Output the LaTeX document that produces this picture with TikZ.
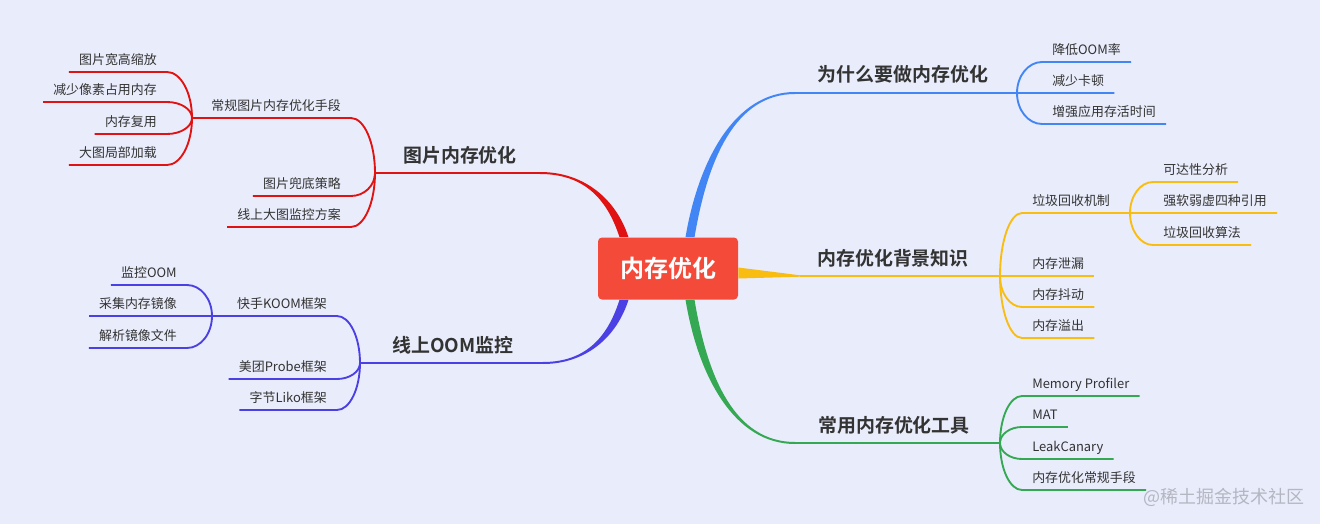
\documentclass[tikz,border=0pt]{standalone}
\usepackage{fontspec}
\setmainfont{Noto Sans CJK SC}[BoldFont={Noto Sans CJK SC Bold}]
\usetikzlibrary{calc,positioning}
\definecolor{bgpage}{HTML}{E9ECFB}
\definecolor{rootred}{HTML}{F44A3A}
\definecolor{brblue}{HTML}{4285F4}
\definecolor{bryellow}{HTML}{F9BD12}
\definecolor{brgreen}{HTML}{34A853}
\definecolor{brred}{HTML}{E11212}
\definecolor{brviolet}{HTML}{4B40E4}
\definecolor{txtgray}{HTML}{333333}
\definecolor{markgray}{HTML}{B4B6C2}
\tikzset{
  x=0.75pt, y=-0.75pt,
  rootnode/.style={fill=rootred,rounded corners=3pt,minimum width=105pt,
    minimum height=46.5pt,inner sep=0pt,text=white,
    font=\fontsize{18}{20}\selectfont\bfseries},
  toplbl/.style={anchor=base,inner sep=0pt,text=txtgray,
    font=\fontsize{14.2}{16}\selectfont\bfseries},
  leafbox/.style={inner xsep=7.5pt,inner ysep=5.3pt,text depth=0pt,
    text=txtgray,font=\fontsize{9.7}{11}\selectfont},
  leafR/.style={leafbox,anchor=south west},
  leafL/.style={leafbox,anchor=south east},
  twig/.style={line width=1.4pt},
  branch/.style={to path={.. controls
    ($(\tikztostart)!0.55!(\tikztostart|-\tikztotarget)$) and
    ($(\tikztotarget)!0.55!(\tikztostart|-\tikztotarget)$) .. (\tikztotarget)}},
}
% tapered main branch: colour, root, c1, c2, end, hub, root offset, end offset
\newcommand\mainbranch[8]{%
  \fill[#1] ($(#2)+#7$) .. controls ($(#3)+#7$) and ($(#4)+#8$) .. ($(#5)+#8$)
    -- ($(#5)-#8$) .. controls ($(#4)-#8$) and ($(#3)-#7$) .. ($(#2)-#7$) -- cycle;
  \draw[#1,twig] (#5) -- (#6);
}
\begin{document}
\begin{tikzpicture}
  \useasboundingbox (0,0) rectangle (1320,524);
  \fill[bgpage] (0,0) rectangle (1320,524);

  \node[rootnode] (mem) at (668,268.5) {内存优化};
  \coordinate (rB) at ($(mem.north)+(22,0)$);
  \coordinate (rG) at ($(mem.south)+(22,0)$);
  \coordinate (rR) at ($(mem.north)+(-44,0)$);
  \coordinate (rP) at ($(mem.south)+(-44,0)$);
  \coordinate (eY) at (800,276);

  % hubs
  \coordinate (hB) at (1017,93);
  \coordinate (hY) at (1000,276);
  \coordinate (hY2) at (1130,213);
  \coordinate (hG) at (1000,443);
  \coordinate (hR) at (375,173);
  \coordinate (hR2) at (192,118);
  \coordinate (hP) at (360,363);
  \coordinate (hP2) at (212,316);

  % main branches
  \mainbranch{brblue}{rB}{703,160}{735,93}{795,93}{hB}{(4.5,0)}{(0,1)}
  \mainbranch{brgreen}{rG}{703,378}{735,443}{795,443}{hG}{(4.5,0)}{(0,-1)}
  \mainbranch{brred}{rR}{612,200}{585,173}{540,173}{hR}{(4.5,0)}{(0,-1)}
  \mainbranch{brviolet}{rP}{612,338}{585,363}{543,363}{hP}{(4.5,0)}{(0,1)}
  \fill[bryellow] ($(mem.east)+(0,-1)$) .. controls (770,271) .. (800,275.3)
    -- (800,276.7) -- ($(mem.east)+(0,10)$) -- cycle;
  \draw[bryellow,twig] (eY) -- (hY);

  \node[toplbl] (tB) at (903,82) {为什么要做内存优化};
  \node[toplbl] (tY) at (893,265) {内存优化背景知识};
  \node[toplbl] (tG) at (894,432) {常用内存优化工具};
  \node[toplbl] (tR) at (460,162) {图片内存优化};
  \node[toplbl] (tP) at (453,352) {线上OOM监控};

  % why
  \node[leafR] (b1) at (1042,62) {降低OOM率};
  \node[leafR] (b2) at (1042,93) {减少卡顿};
  \node[leafR] (b3) at (1042,124) {增强应用存活时间};
  \foreach \n in {b1,b2,b3}
    \draw[brblue,twig] (hB) to[branch] (\n.south west) -- (\n.south east);

  % background knowledge
  \node[leafR] (y1) at (1022,213) {垃圾回收机制};
  \node[leafR] (y2) at (1022,276) {内存泄漏};
  \node[leafR] (y3) at (1022,307) {内存抖动};
  \node[leafR] (y4) at (1022,338) {内存溢出};
  \draw[bryellow,twig] (hY) to[branch] (y1.south west) -- (hY2);
  \foreach \n in {y2,y3,y4}
    \draw[bryellow,twig] (hY) to[branch] (\n.south west) -- (\n.south east);
  \node[leafR] (y11) at (1153,182) {可达性分析};
  \node[leafR] (y12) at (1153,213) {强软弱虚四种引用};
  \node[leafR] (y13) at (1153,245) {垃圾回收算法};
  \foreach \n in {y11,y12,y13}
    \draw[bryellow,twig] (hY2) to[branch] (\n.south west) -- (\n.south east);

  % tools
  \node[leafR] (g1) at (1022,396) {Memory Profiler};
  \node[leafR] (g2) at (1022,427) {MAT};
  \node[leafR] (g3) at (1022,459) {LeakCanary};
  \node[leafR] (g4) at (1022,490) {内存优化常规手段};
  \foreach \n in {g1,g2,g3,g4}
    \draw[brgreen,twig] (hG) to[branch] (\n.south west) -- (\n.south east);

  % images
  \node[leafL] (r1) at (351,118) {常规图片内存优化手段};
  \node[leafL] (r2) at (351,196) {图片兜底策略};
  \node[leafL] (r3) at (351,227) {线上大图监控方案};
  \draw[brred,twig] (hR) to[branch] (r1.south east) -- (hR2);
  \foreach \n in {r2,r3}
    \draw[brred,twig] (hR) to[branch] (\n.south east) -- (\n.south west);
  \node[leafL] (r11) at (167,72) {图片宽高缩放};
  \node[leafL] (r12) at (167,102) {减少像素占用内存};
  \node[leafL] (r13) at (167,134) {内存复用};
  \node[leafL] (r14) at (167,165) {大图局部加载};
  \foreach \n in {r11,r12,r13,r14}
    \draw[brred,twig] (hR2) to[branch] (\n.south east) -- (\n.south west);

  % online OOM
  \node[leafL] (p1) at (337,316) {快手KOOM框架};
  \node[leafL] (p2) at (337,379) {美团Probe框架};
  \node[leafL] (p3) at (337,410) {字节Liko框架};
  \draw[brviolet,twig] (hP) to[branch] (p1.south east) -- (hP2);
  \foreach \n in {p2,p3}
    \draw[brviolet,twig] (hP) to[branch] (\n.south east) -- (\n.south west);
  \node[leafL] (p11) at (187,285) {监控OOM};
  \node[leafL] (p12) at (187,316) {采集内存镜像};
  \node[leafL] (p13) at (187,348) {解析镜像文件};
  \foreach \n in {p11,p12,p13}
    \draw[brviolet,twig] (hP2) to[branch] (\n.south east) -- (\n.south west);

  \node[anchor=west,inner sep=0pt,text=markgray,font=\fontsize{13.5}{15}\selectfont]
    (mark) at (1143,497) {@稀土掘金技术社区};
\end{tikzpicture}
\end{document}
